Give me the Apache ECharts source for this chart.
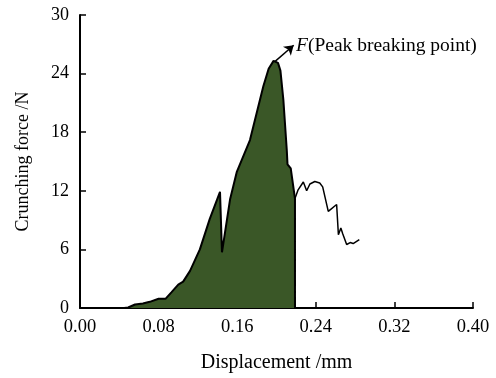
<!DOCTYPE html>
<html>
<head>
<meta charset="utf-8">
<script src="https://cdn.jsdelivr.net/npm/echarts@6/dist/echarts.min.js"></script>
<style>html,body{margin:0;padding:0;background:#fff}#c{width:496px;height:378px}</style>
</head>
<body>
<div id="c"></div>
<script>
// Filled part of the curve (up to the breaking drop)
var filledDisp  = [0.000, 0.045, 0.049, 0.056, 0.064, 0.071, 0.080, 0.087, 0.093, 0.100, 0.105, 0.112, 0.117, 0.122, 0.132, 0.1425, 0.1445, 0.1527, 0.1595, 0.173, 0.1866, 0.192, 0.197, 0.2015, 0.204, 0.207, 0.2105, 0.2112, 0.2145, 0.2188, 0.2188];
var filledForce = [0, 0, 0.05, 0.36, 0.46, 0.63, 0.94, 0.94, 1.6, 2.4, 2.7, 3.8, 4.9, 6.0, 9.1, 11.9, 5.7, 11.1, 13.9, 17.2, 22.7, 24.5, 25.3, 25.1, 24.3, 21.3, 16.1, 14.7, 14.3, 11.2, 0];
// Unfilled tail of the curve
var tailDisp  = [0.2188, 0.222, 0.2273, 0.2307, 0.234, 0.239, 0.244, 0.247, 0.2527, 0.2612, 0.263, 0.2655, 0.2674, 0.2714, 0.275, 0.278, 0.2843];
var tailForce = [11.2, 12.1, 12.9, 12.0, 12.7, 12.95, 12.8, 12.4, 9.9, 10.6, 7.5, 8.2, 7.6, 6.5, 6.7, 6.6, 7.0];
// Peak annotation arrow (data coords)
var arrowFrom = [0.198, 25.2];
var arrowTo   = [0.2175, 26.9];
var xTickLabels = ['0.00', '0.08', '0.16', '0.24', '0.32', '0.40'];
var yTickLabels = ['0', '6', '12', '18', '24', '30'];

function zip(a, b) { return a.map(function (v, i) { return [v, b[i]]; }); }

var FONT = 'Liberation Serif';
var chart = echarts.init(document.getElementById('c'));
chart.setOption({
  animation: false,
  backgroundColor: '#fff',
  grid: { left: 80, right: 23, top: 15, bottom: 69 },
  xAxis: {
    type: 'value', min: 0, max: 0.4, interval: 0.08,
    name: 'Displacement /mm', nameLocation: 'middle', nameGap: 45,
    nameTextStyle: { fontFamily: FONT, fontSize: 20, color: '#000' },
    axisLine: { show: true, lineStyle: { color: '#000', width: 2 } },
    axisTick: { show: true, inside: true, length: 6, lineStyle: { color: '#000', width: 1.5 } },
    axisLabel: { fontFamily: FONT, fontSize: 18.5, color: '#000', margin: 10,
      formatter: function (v) { return xTickLabels[Math.round(v / 0.08)]; } },
    splitLine: { show: false }
  },
  yAxis: {
    type: 'value', min: 0, max: 30, interval: 6,
    name: 'Crunching force /N', nameLocation: 'middle', nameGap: 48,
    nameTextStyle: { fontFamily: FONT, fontSize: 18, color: '#000' },
    axisLine: { show: true, lineStyle: { color: '#000', width: 2 } },
    axisTick: { show: true, inside: true, length: 6, lineStyle: { color: '#000', width: 1.5 } },
    axisLabel: { fontFamily: FONT, fontSize: 18, color: '#000', margin: 11,
      formatter: function (v) { return yTickLabels[Math.round(v / 6)]; } },
    splitLine: { show: false }
  },
  series: [
    {
      type: 'line', data: zip(filledDisp, filledForce), showSymbol: false, smooth: false,
      lineStyle: { color: '#000', width: 2 },
      areaStyle: { color: '#3a5727', opacity: 1 },
      markLine: {
        silent: true, symbol: ['none', 'arrow'], symbolSize: 9,
        lineStyle: { color: '#000', width: 1.5, type: 'solid' },
        label: { show: false },
        data: [[{ coord: arrowFrom }, { coord: arrowTo }]]
      },
      z: 2
    },
    {
      type: 'line', data: zip(tailDisp, tailForce), showSymbol: false, smooth: false,
      lineStyle: { color: '#000', width: 1.5 }, z: 3
    }
  ],
  graphic: [{
    type: 'text', left: 296, top: 36,
    style: {
      text: '{i|F}{n|(Peak breaking point)}',
      fill: '#000', fontFamily: FONT, fontSize: 19.5,
      rich: {
        i: { fontStyle: 'italic', fontFamily: FONT, fontSize: 19.5, fill: '#000' },
        n: { fontFamily: FONT, fontSize: 19.5, fill: '#000' }
      }
    }
  }]
});
</script>
</body>
</html>
